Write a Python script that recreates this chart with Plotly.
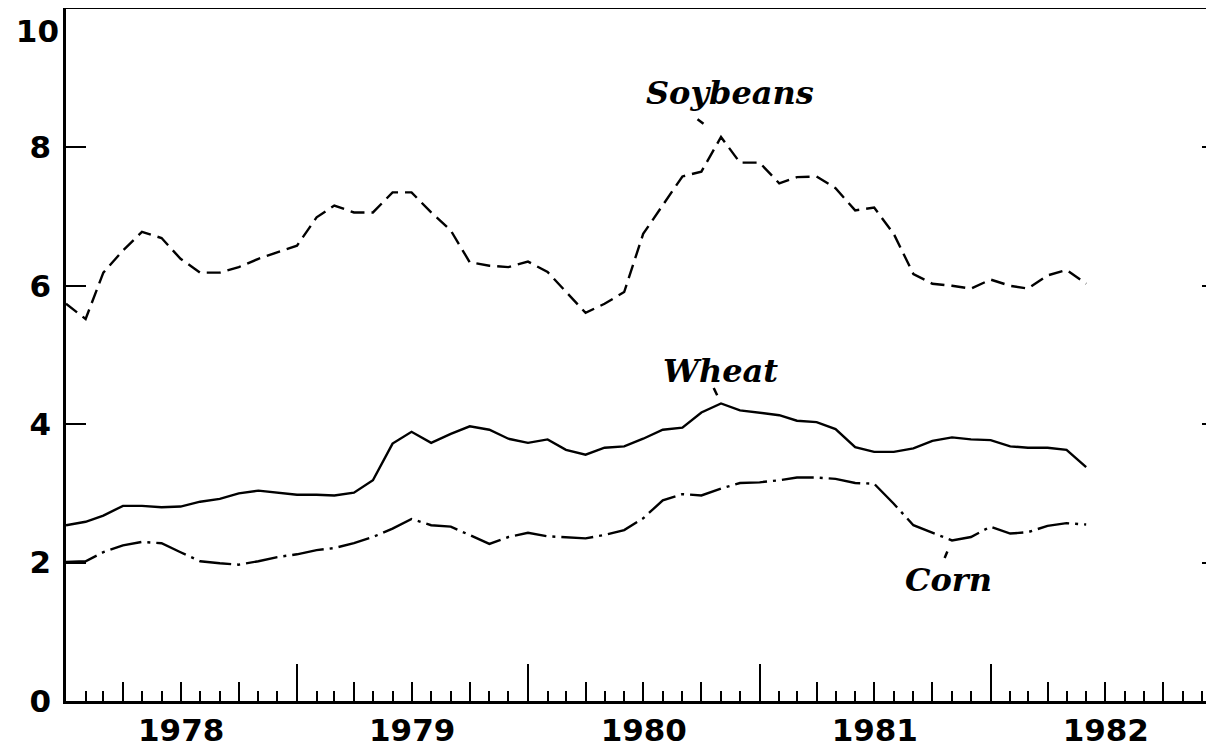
import pandas as pd
import plotly.graph_objects as go

# Monthly data, Jan 1978 - Jun 1982
months = pd.date_range("1978-01-01", periods=54, freq="MS")

soybeans = [5.74, 5.52, 6.19, 6.51, 6.78, 6.69, 6.39, 6.19, 6.19, 6.27, 6.39, 6.48,
            6.58, 6.99, 7.16, 7.06, 7.06, 7.35, 7.35, 7.06, 6.80, 6.34, 6.29, 6.27,
            6.35, 6.20, 5.91, 5.61, 5.74, 5.91, 6.75, 7.16, 7.58, 7.65, 8.15, 7.78,
            7.78, 7.48, 7.57, 7.58, 7.41, 7.09, 7.13, 6.75, 6.17, 6.03, 6.00, 5.96,
            6.09, 6.00, 5.96, 6.15, 6.23, 6.03]
wheat = [2.54, 2.59, 2.68, 2.82, 2.82, 2.80, 2.81, 2.88, 2.92, 3.00, 3.04, 3.01,
         2.98, 2.98, 2.97, 3.01, 3.19, 3.72, 3.89, 3.73, 3.86, 3.97, 3.92, 3.79,
         3.73, 3.78, 3.63, 3.56, 3.66, 3.68, 3.79, 3.92, 3.95, 4.17, 4.30, 4.20,
         4.17, 4.13, 4.05, 4.03, 3.93, 3.67, 3.60, 3.60, 3.65, 3.76, 3.81, 3.78,
         3.77, 3.68, 3.66, 3.66, 3.63, 3.38]
corn = [2.01, 2.02, 2.15, 2.25, 2.30, 2.28, 2.15, 2.02, 1.99, 1.97, 2.02, 2.08,
        2.12, 2.18, 2.21, 2.28, 2.37, 2.49, 2.63, 2.54, 2.52, 2.40, 2.27, 2.37,
        2.43, 2.38, 2.37, 2.35, 2.40, 2.47, 2.64, 2.90, 2.99, 2.97, 3.07, 3.15,
        3.16, 3.19, 3.23, 3.23, 3.21, 3.15, 3.14, 2.85, 2.54, 2.43, 2.32, 2.37,
        2.52, 2.42, 2.44, 2.53, 2.57, 2.55]

year_labels = ["1978", "1979", "1980", "1981", "1982"]
year_mids = ["1978-07-02", "1979-07-02", "1980-07-02", "1981-07-02", "1982-07-02"]
y_ticks = [0, 2, 4, 6, 8]
y_top_tick = [10]

X_RANGE = ["1978-01-01", "1982-12-20"]
AXFONT = dict(family="DejaVu Sans", size=31, color="black", weight="bold")
LBLFONT = dict(family="DejaVu Serif", size=32, color="black", weight="bold", style="italic")

fig = go.Figure()
fig.add_trace(go.Scatter(x=months, y=soybeans, mode="lines",
                         line=dict(color="black", width=2.4, dash="14px,7px")))
fig.add_trace(go.Scatter(x=months, y=wheat, mode="lines",
                         line=dict(color="black", width=2.4)))
fig.add_trace(go.Scatter(x=months, y=corn, mode="lines",
                         line=dict(color="black", width=2.4, dash="32px,6px,3px,6px")))
# empty traces to hold the extra tick axes
for xa, ya in [("x2", "y"), ("x3", "y"), ("x", "y2"), ("x", "y3")]:
    fig.add_trace(go.Scatter(x=[], y=[], xaxis=xa, yaxis=ya, showlegend=False))

# the page body adds an 8px offset; the figure is sized to fill the rest of the window
fig.update_layout(
    width=1206, height=748,
    margin=dict(l=58, r=0, t=1, b=55, autoexpand=False),
    paper_bgcolor="white", plot_bgcolor="white",
    showlegend=False,
    xaxis=dict(type="date", range=X_RANGE, tickvals=year_mids, ticktext=year_labels,
               ticks="", showgrid=False, zeroline=False, showline=True, mirror=True,
               linecolor="black", linewidth=2.5, tickfont=AXFONT, ticklabelstandoff=0,
               automargin=False),
    xaxis2=dict(type="date", overlaying="x", matches="x", anchor="y", side="bottom",
                range=X_RANGE, tick0="1978-01-01", dtick="M12", ticks="inside",
                ticklen=37, tickwidth=2, tickcolor="black", showticklabels=False,
                showgrid=False, zeroline=False, showline=False, automargin=False,
                minor=dict(dtick="M1", tick0="1978-01-01", ticks="inside", ticklen=10,
                           tickwidth=2, tickcolor="black", showgrid=False)),
    xaxis3=dict(type="date", overlaying="x", matches="x", anchor="y", side="bottom",
                range=X_RANGE, tick0="1978-01-01", dtick="M3", ticks="inside",
                ticklen=19, tickwidth=2, tickcolor="black", showticklabels=False,
                showgrid=False, zeroline=False, showline=False, automargin=False),
    yaxis=dict(range=[0, 10], tickvals=y_ticks, ticks="inside", ticklen=20, tickwidth=2,
               tickcolor="black", showgrid=False, zeroline=False, showline=True,
               linecolor="black", linewidth=2.5, tickfont=AXFONT, ticklabelstandoff=6,
               automargin=False),
    yaxis2=dict(range=[0, 10], overlaying="y", matches="y", side="left", anchor="x",
                tickvals=y_top_tick, ticks="", showgrid=False, zeroline=False,
                showline=False, tickfont=AXFONT, ticklabelposition="outside bottom",
                ticklabelstandoff=6, automargin=False),
    yaxis3=dict(range=[0, 10], overlaying="y", matches="y", side="right", anchor="x",
                tickvals=y_ticks[1:], ticks="inside", ticklen=12, tickwidth=2,
                tickcolor="black", showticklabels=False, showgrid=False,
                zeroline=False, showline=False, automargin=False),
)

pk_s = soybeans.index(max(soybeans))
pk_w = wheat.index(max(wheat))
lo_c = 46
# leader lines
fig.add_annotation(x=months[pk_s], y=soybeans[pk_s], text="", showarrow=True,
                   arrowhead=0, arrowwidth=2.5, arrowcolor="black", ax=-25, ay=-19,
                   standoff=22)
fig.add_annotation(x=months[pk_w], y=wheat[pk_w], text="", showarrow=True,
                   arrowhead=0, arrowwidth=2.5, arrowcolor="black", ax=-8, ay=-17,
                   standoff=9)
fig.add_annotation(x=months[lo_c], y=corn[lo_c], text="", showarrow=True,
                   arrowhead=0, arrowwidth=2.5, arrowcolor="black", ax=-8, ay=19,
                   standoff=12)
# labels
fig.add_annotation(x="1980-11-15", y=8.79, text="Soybeans", showarrow=False, font=LBLFONT)
fig.add_annotation(x="1980-10-31", y=4.77, text="Wheat", showarrow=False, font=LBLFONT)
fig.add_annotation(x="1981-10-26", y=1.75, text="Corn", showarrow=False, font=LBLFONT)

fig.write_html("out.html")
